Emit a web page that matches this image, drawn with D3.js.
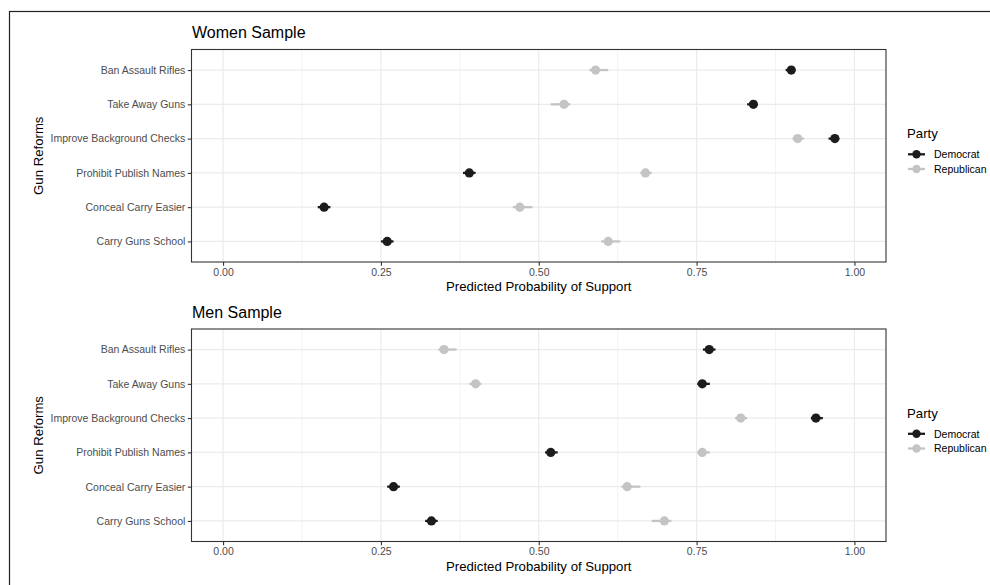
<!DOCTYPE html>
<html>
<head>
<meta charset="utf-8">
<script src="https://cdn.jsdelivr.net/npm/d3@7"></script>
<style>
  body { margin: 0; background: #fff; }
  text { font-family: "Liberation Sans", Arial, sans-serif; }
</style>
</head>
<body>
<div id="chart"></div>
<script>
// categories, top to bottom
var reforms = ["Ban Assault Rifles", "Take Away Guns", "Improve Background Checks",
               "Prohibit Publish Names", "Conceal Carry Easier", "Carry Guns School"];
var parties = ["Democrat", "Republican"];
var xTicks = [0, 0.25, 0.5, 0.75, 1];

// women sample
var womenDemEst = [0.900, 0.840, 0.969, 0.390, 0.160, 0.260];
var womenDemLo  = [0.891, 0.830, 0.959, 0.380, 0.150, 0.250];
var womenDemHi  = [0.906, 0.845, 0.976, 0.400, 0.170, 0.270];
var womenRepEst = [0.590, 0.540, 0.910, 0.669, 0.470, 0.610];
var womenRepLo  = [0.580, 0.519, 0.902, 0.661, 0.459, 0.599];
var womenRepHi  = [0.610, 0.550, 0.920, 0.679, 0.490, 0.629];

// men sample
var menDemEst = [0.770, 0.759, 0.939, 0.519, 0.270, 0.330];
var menDemLo  = [0.760, 0.751, 0.931, 0.510, 0.260, 0.320];
var menDemHi  = [0.780, 0.771, 0.950, 0.530, 0.280, 0.340];
var menRepEst = [0.350, 0.400, 0.820, 0.759, 0.640, 0.699];
var menRepLo  = [0.341, 0.390, 0.811, 0.751, 0.631, 0.679];
var menRepHi  = [0.370, 0.409, 0.830, 0.771, 0.661, 0.710];

var W = 990, H = 585;
var colors = {"Democrat": "#1c1c1c", "Republican": "#c4c4c4"};

var svg = d3.select("#chart").append("svg")
    .attr("width", W).attr("height", H);

// outer frame
svg.append("rect")
    .attr("x", 9.5).attr("y", 11.5)
    .attr("width", W + 10).attr("height", H + 10)
    .attr("fill", "none").attr("stroke", "#222").attr("stroke-width", 1.2);

var x = d3.scaleLinear().domain([-0.05, 1.05]).range([191.5, 886]);

function rows(est, lo, hi, party) {
    return reforms.map(function(r, i) {
        return {reform: r, est: est[i], lo: lo[i], hi: hi[i], party: party};
    });
}

function drawPanel(title, top, dem, rep) {
    var bottom = top + 212.5;
    var y = d3.scalePoint().domain(reforms).range([top, bottom]).padding(0.6);
    var g = svg.append("g");

    g.append("text")
        .attr("x", 192).attr("y", top - 11.5)
        .attr("font-size", 16).attr("fill", "#000")
        .text(title);

    // minor grid
    g.selectAll(".minor")
        .data([0.125, 0.375, 0.625, 0.875])
        .enter().append("line")
        .attr("x1", function(d) { return x(d); })
        .attr("x2", function(d) { return x(d); })
        .attr("y1", top).attr("y2", bottom)
        .attr("stroke", "#ebebeb").attr("stroke-width", 0.6);

    // major grid
    g.selectAll(".vmajor")
        .data(xTicks)
        .enter().append("line")
        .attr("x1", function(d) { return x(d); })
        .attr("x2", function(d) { return x(d); })
        .attr("y1", top).attr("y2", bottom)
        .attr("stroke", "#ebebeb").attr("stroke-width", 1.2);
    g.selectAll(".hmajor")
        .data(reforms)
        .enter().append("line")
        .attr("x1", x.range()[0]).attr("x2", x.range()[1])
        .attr("y1", function(d) { return y(d); })
        .attr("y2", function(d) { return y(d); })
        .attr("stroke", "#ebebeb").attr("stroke-width", 1.2);

    var all = dem.concat(rep);

    // error bars
    g.selectAll(".err")
        .data(all)
        .enter().append("line")
        .attr("x1", function(d) { return x(d.lo); })
        .attr("x2", function(d) { return x(d.hi); })
        .attr("y1", function(d) { return y(d.reform); })
        .attr("y2", function(d) { return y(d.reform); })
        .attr("stroke", function(d) { return colors[d.party]; })
        .attr("stroke-width", 2.3);

    // points
    g.selectAll(".pt")
        .data(all)
        .enter().append("circle")
        .attr("cx", function(d) { return x(d.est); })
        .attr("cy", function(d) { return y(d.reform); })
        .attr("r", 4.6)
        .attr("fill", function(d) { return colors[d.party]; });

    // panel border
    g.append("rect")
        .attr("x", x.range()[0]).attr("y", top)
        .attr("width", x.range()[1] - x.range()[0]).attr("height", bottom - top)
        .attr("fill", "none").attr("stroke", "#333").attr("stroke-width", 1.1);

    // axes
    var xa = g.append("g")
        .attr("transform", "translate(0," + bottom + ")")
        .call(d3.axisBottom(x).tickValues(xTicks).tickFormat(d3.format(".2f"))
            .tickSize(3.7).tickPadding(2.5));
    var ya = g.append("g")
        .attr("transform", "translate(" + x.range()[0] + ",0)")
        .call(d3.axisLeft(y).tickSize(3.7).tickPadding(2.5));
    [xa, ya].forEach(function(a) {
        a.select(".domain").remove();
        a.selectAll(".tick line").attr("stroke", "#333").attr("stroke-width", 1.1);
        a.selectAll(".tick text")
            .attr("fill", "#4d4d4d")
            .attr("font-size", 10.5)
            .attr("font-family", "Liberation Sans, Arial, sans-serif");
    });

    g.append("text")
        .attr("x", (x.range()[0] + x.range()[1]) / 2)
        .attr("y", bottom + 29)
        .attr("text-anchor", "middle")
        .attr("font-size", 13.2).attr("fill", "#000")
        .text("Predicted Probability of Support");

    g.append("text")
        .attr("transform", "translate(43," + ((top + bottom) / 2) + ")rotate(-90)")
        .attr("text-anchor", "middle")
        .attr("font-size", 13.2).attr("fill", "#000")
        .text("Gun Reforms");

    // legend
    var lg = g.append("g");
    lg.append("text")
        .attr("x", 907).attr("y", top + 88.5)
        .attr("font-size", 13.2).attr("fill", "#000")
        .text("Party");
    parties.forEach(function(p, i) {
        var ky = top + 104.8 + i * 14.7;
        lg.append("line")
            .attr("x1", 908).attr("x2", 925)
            .attr("y1", ky).attr("y2", ky)
            .attr("stroke", colors[p]).attr("stroke-width", 2.3);
        lg.append("circle")
            .attr("cx", 916.5).attr("cy", ky).attr("r", 4.2)
            .attr("fill", colors[p]);
        lg.append("text")
            .attr("x", 934).attr("y", ky + 3.7)
            .attr("font-size", 10.5).attr("fill", "#000")
            .text(p);
    });
}

drawPanel("Women Sample", 49.5,
    rows(womenDemEst, womenDemLo, womenDemHi, "Democrat"),
    rows(womenRepEst, womenRepLo, womenRepHi, "Republican"));
drawPanel("Men Sample", 329,
    rows(menDemEst, menDemLo, menDemHi, "Democrat"),
    rows(menRepEst, menRepLo, menRepHi, "Republican"));
</script>
</body>
</html>
